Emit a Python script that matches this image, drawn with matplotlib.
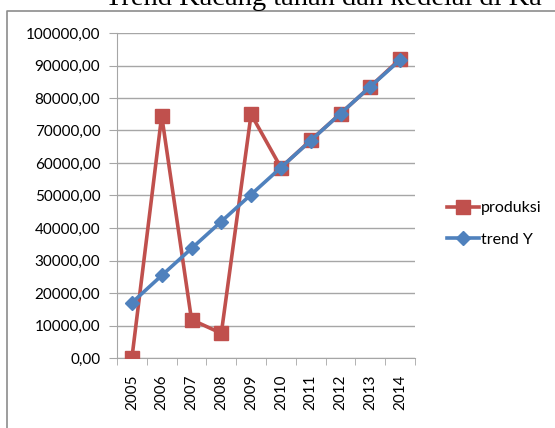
import matplotlib.pyplot as plt
from matplotlib.lines import Line2D
import numpy as np

years = ['2005', '2006', '2007', '2008', '2009', '2010', '2011', '2012', '2013', '2014']
produksi = [0, 74500, 11800, 7600, 75000, 58600, 67000, 75200, 83500, 92000]
trend_y = [17000, 25400, 33700, 42000, 50300, 58600, 66900, 75200, 83500, 91700]
yticks = np.arange(0, 100001, 10000)

W, H = 555, 428
fig = plt.figure(figsize=(W / 100, H / 100), dpi=100)
plt.rcParams['font.family'] = ['Lato', 'DejaVu Sans']

ax = fig.add_axes([117 / W, (H - 358) / H, (415 - 117) / W, (358 - 33) / H])

red = '#C0504D'
blue = '#4F81BD'
grid = '#A6A6A6'

ax.plot(years, produksi, color=red, lw=2.6, marker='s', ms=10, label='produksi', zorder=3)
ax.plot(years, trend_y, color=blue, lw=2.6, marker='D', ms=7, label='trend Y', zorder=4)

ax.set_xlim(-0.5, 9.5)
ax.set_ylim(0, 100000)
ax.set_yticks(yticks)
ax.set_yticklabels([f'{v},00' for v in yticks])
ax.yaxis.grid(True, color=grid, lw=1)
ax.set_axisbelow(True)

ax.set_xticks(range(len(years)))
ax.set_xticklabels(years, rotation=90)
ax.set_xticks(np.arange(-0.5, 10, 1), minor=True)
ax.tick_params(axis='x', which='major', length=0, pad=12, labelsize=11, colors='black')
ax.tick_params(axis='x', which='minor', length=5, color=grid)
ax.tick_params(axis='y', length=6, color=grid, labelsize=11, pad=6)

for s in ['top', 'right']:
    ax.spines[s].set_visible(False)
for s in ['left', 'bottom']:
    ax.spines[s].set_color(grid)

ax.legend(loc='center left', bbox_to_anchor=(433 / W, (H - 224) / H), bbox_transform=fig.transFigure,
          frameon=False, fontsize=11.5, handlelength=2.0, labelspacing=1.1, handletextpad=0.1)

# outer chart border (top and left visible)
fig.add_artist(Line2D([7 / W, 7 / W, 1.0], [0.0, (H - 11) / H, (H - 11) / H], color='#8C8C8C', lw=1.2,
                      transform=fig.transFigure))

fig.text(105 / W, (H - 5) / H, 'Trend Kacang tanah dan kedelai di Ka', family='Liberation Serif',
         fontsize=20.5, ha='left', va='baseline')

fig.savefig('out.png', dpi=100)
